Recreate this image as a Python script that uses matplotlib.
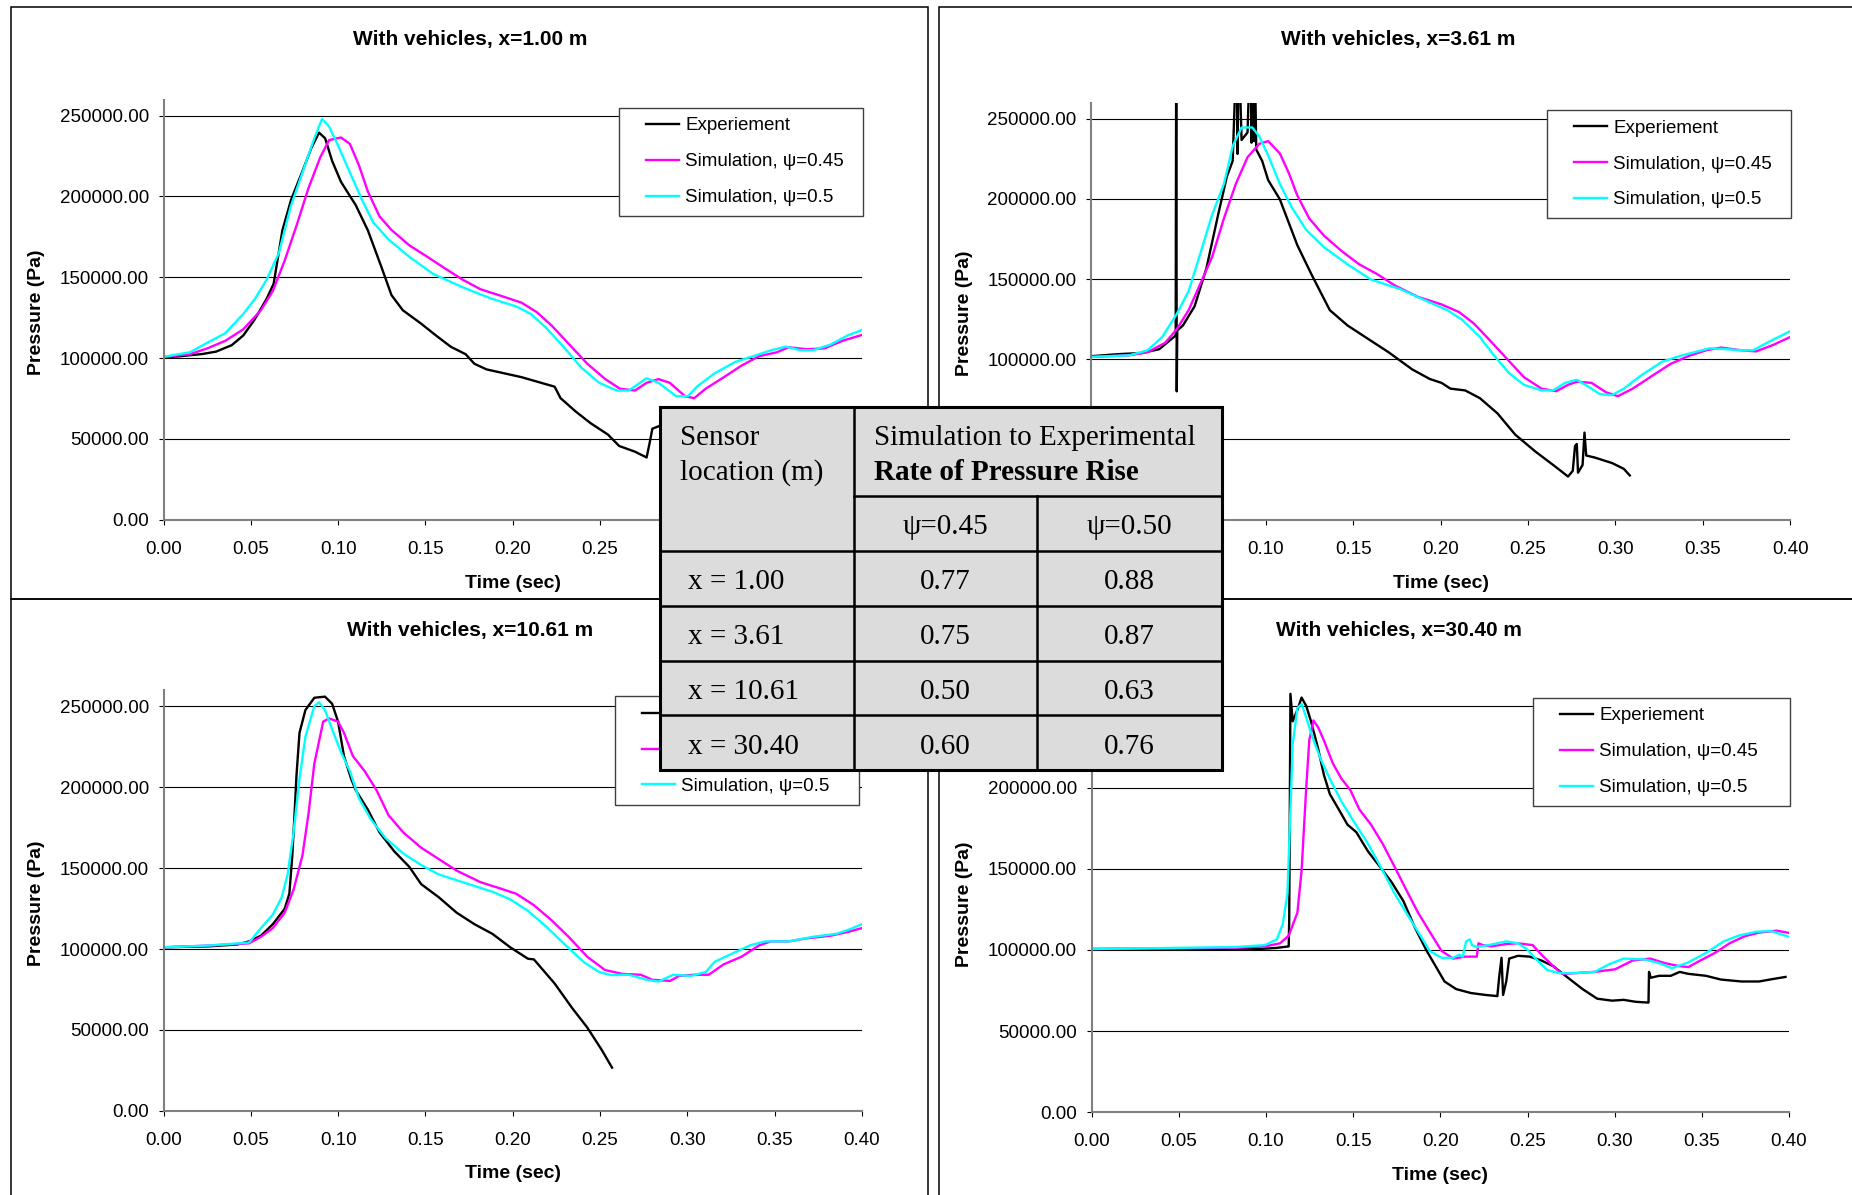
import matplotlib
matplotlib.use("Agg")
from matplotlib import pyplot as plt
from matplotlib.lines import Line2D
from matplotlib.legend_handler import HandlerLine2D
from matplotlib.patches import Rectangle
from matplotlib.ticker import FormatStrFormatter

plt.rcParams['font.family'] = 'Liberation Sans'

# ---------------- data (time s, pressure Pa) -------------
# x = 1.00 m
t1_exp = [0.000, 0.008, 0.022, 0.030, 0.039, 0.0456, 0.052, 0.059, 0.063, 0.068, 0.073, 0.080, 0.0846,
          0.089, 0.0925, 0.0965, 0.1016, 0.110, 0.117, 0.125, 0.1305, 0.137, 0.1475, 0.156, 0.1645,
          0.173, 0.178, 0.185, 0.195, 0.205, 0.214, 0.224, 0.2274, 0.236, 0.2445, 0.2545, 0.261,
          0.270, 0.2767, 0.2783, 0.280, 0.284]
p1_exp = [100500, 101000, 102500, 104000, 108000, 114000, 123700, 136700, 146000, 179000, 198000,
          217000, 230000, 239500, 236000, 222000, 209000, 194700, 179000, 155600, 139000, 129600,
          121300, 114000, 107000, 102400, 96500, 93000, 90600, 88200, 85400, 82300, 75200, 67000,
          59800, 52700, 45600, 42100, 38500, 46800, 56300, 58000]
t1_s45 = [0.001, 0.015, 0.025, 0.0353, 0.0456, 0.0557, 0.0625, 0.0693, 0.076, 0.083, 0.0897, 0.0948,
          0.1016, 0.1067, 0.1118, 0.117, 0.1237, 0.1305, 0.1407, 0.151, 0.161, 0.1713, 0.1815, 0.195,
          0.205, 0.2138, 0.2223, 0.2325, 0.2427, 0.253, 0.2613, 0.270, 0.2767, 0.2835, 0.290, 0.2987,
          0.304, 0.3106, 0.321, 0.331, 0.3412, 0.3514, 0.358, 0.3684, 0.3786, 0.389, 0.400]
p1_s45 = [100800, 102400, 106000, 110700, 117800, 129600, 141400, 160300, 181600, 205300, 224200,
          234900, 236500, 232500, 219500, 203000, 187600, 179300, 169800, 162700, 155600, 148500,
          142600, 137900, 134300, 128400, 120100, 108300, 96500, 87000, 81100, 79900, 84700, 87000,
          84700, 76400, 75200, 81100, 88200, 95300, 101200, 103600, 106700, 105500, 106000, 110700,
          114300]
t1_s50 = [0.001, 0.015, 0.025, 0.0353, 0.0456, 0.0523, 0.059, 0.066, 0.0727, 0.0795, 0.0863, 0.0907,
          0.0948, 0.100, 0.1067, 0.1135, 0.120, 0.1288, 0.1407, 0.1543, 0.1713, 0.188, 0.2019, 0.2104,
          0.2189, 0.229, 0.2393, 0.2495, 0.2597, 0.2665, 0.2767, 0.2835, 0.2936, 0.3004, 0.3055,
          0.3157, 0.3276, 0.3378, 0.348, 0.3565, 0.365, 0.3718, 0.382, 0.3922, 0.400]
p1_s50 = [101000, 103600, 109500, 115400, 127300, 136700, 148500, 165100, 193500, 214800, 236000,
          247900, 243200, 231300, 214800, 198200, 184000, 173400, 162700, 152100, 143800, 136700,
          132000, 127300, 119000, 107100, 94100, 84700, 79900, 79900, 87500, 84700, 76400, 76400,
          82300, 90600, 97700, 101200, 104800, 107100, 104800, 104800, 108300, 114200, 117300]

# x = 3.61 m (spikes run off the top of the axis)
t2_exp = [0.001, 0.0155, 0.029, 0.039, 0.0474, 0.0484, 0.0487, 0.0490, 0.0493, 0.0525, 0.0592, 0.066,
          0.0727, 0.0777, 0.081, 0.0834, 0.0838, 0.0844, 0.0861, 0.0895, 0.0912, 0.0918, 0.0925,
          0.0932, 0.0935, 0.0945, 0.0979, 0.1013, 0.108, 0.113, 0.118, 0.1265, 0.1366, 0.1467,
          0.1568, 0.1702, 0.1837, 0.1938, 0.2005, 0.2056, 0.214, 0.2224, 0.2325, 0.2426, 0.2543,
          0.2644, 0.2729, 0.2756, 0.2769, 0.2779, 0.2786, 0.2812, 0.2823, 0.2833, 0.288, 0.2981,
          0.3048, 0.3082]
p2_exp = [102000, 103200, 103900, 106300, 113900, 115000, 300000, 80000, 118000, 121000, 133000,
          156800, 190200, 214000, 223600, 300000, 228000, 300000, 236700, 241400, 300000, 235000,
          300000, 236000, 300000, 230700, 223600, 211700, 199700, 185400, 171100, 152000, 130600,
          121100, 113900, 104400, 93700, 87700, 85300, 81700, 80600, 75800, 66300, 53100, 42400,
          34100, 26900, 30500, 46000, 47200, 29300, 34100, 54300, 40000, 38800, 35300, 31700, 27600]
t2_s45 = [0.001, 0.022, 0.0323, 0.0424, 0.049, 0.0558, 0.0626, 0.0693, 0.076, 0.0828, 0.0895, 0.0962,
          0.1013, 0.108, 0.113, 0.118, 0.1248, 0.1332, 0.1433, 0.1534, 0.1635, 0.1736, 0.187, 0.2005,
          0.2106, 0.219, 0.2274, 0.2375, 0.2476, 0.2577, 0.2661, 0.2729, 0.2779, 0.2863, 0.2947,
          0.3014, 0.3099, 0.3216, 0.3317, 0.3418, 0.3519, 0.3603, 0.372, 0.3805, 0.3906, 0.400]
p2_s45 = [101500, 102500, 104400, 110300, 118700, 130600, 147300, 164000, 187800, 209300, 225900,
          234300, 236000, 228300, 216400, 202100, 187800, 177100, 167500, 159200, 153200, 146100,
          138900, 134200, 129400, 122300, 112700, 100800, 88900, 81700, 80100, 84100, 86000, 85300,
          79400, 77000, 81700, 90100, 97200, 102000, 105600, 107300, 105600, 104900, 109100, 113900]
t2_s50 = [0.001, 0.022, 0.0323, 0.0407, 0.049, 0.0558, 0.0626, 0.0693, 0.076, 0.0811, 0.0861, 0.0922,
          0.0962, 0.1013, 0.108, 0.1147, 0.1231, 0.1332, 0.1467, 0.1601, 0.177, 0.1938, 0.2039,
          0.2123, 0.2224, 0.2308, 0.2392, 0.2476, 0.2577, 0.2644, 0.2712, 0.2779, 0.2846, 0.2913,
          0.298, 0.3048, 0.3149, 0.3266, 0.3367, 0.3452, 0.3536, 0.3637, 0.372, 0.3788, 0.3889, 0.400]
p2_s50 = [101500, 102500, 105600, 113900, 128200, 142500, 166300, 190200, 209300, 233100, 244500,
          244500, 239000, 227100, 209300, 194900, 180600, 169900, 159200, 149700, 143700, 135400,
          130600, 124600, 113900, 102000, 91300, 84100, 80600, 80600, 85300, 87200, 82900, 78200,
          77700, 81700, 90100, 98400, 102000, 104400, 106800, 106300, 105600, 105600, 111500, 117500]

# x = 10.61 m
t3_exp = [0.001, 0.0251, 0.0421, 0.0489, 0.0557, 0.0625, 0.0693, 0.072, 0.0737, 0.0751, 0.0761, 0.0778,
          0.0812, 0.0863, 0.0924, 0.0965, 0.0999, 0.1033, 0.1074, 0.1101, 0.1169, 0.1237, 0.1322,
          0.1407, 0.1475, 0.1577, 0.1679, 0.1781, 0.1883, 0.1985, 0.2087, 0.2121, 0.224, 0.2342,
          0.2427, 0.2512, 0.2569]
p3_exp = [101100, 101600, 102800, 104700, 108200, 115300, 124800, 134200, 157800, 186200, 207500,
          233500, 247600, 255200, 255900, 251500, 240500, 219200, 205100, 198000, 186200, 172000,
          160200, 150800, 140100, 131900, 122400, 115300, 109400, 101100, 94000, 93600, 78700, 63300,
          51500, 37300, 26700]
t3_s45 = [0.001, 0.0251, 0.0489, 0.0557, 0.0625, 0.0693, 0.0744, 0.0795, 0.083, 0.0863, 0.0914, 0.0948,
          0.0999, 0.1033, 0.1084, 0.1152, 0.122, 0.1288, 0.1373, 0.1475, 0.1577, 0.1679, 0.1815,
          0.1917, 0.2019, 0.2121, 0.2223, 0.2325, 0.2427, 0.2529, 0.263, 0.2733, 0.280, 0.2902,
          0.2953, 0.3039, 0.3123, 0.3208, 0.331, 0.3412, 0.348, 0.3582, 0.3684, 0.382, 0.3922, 0.400]
p3_s45 = [101100, 102100, 103500, 107500, 112900, 122400, 136600, 157800, 183800, 214500, 240500,
          242400, 240500, 233500, 219200, 209800, 198000, 182700, 172000, 162600, 155500, 148400,
          141300, 137800, 134200, 127100, 117700, 107000, 95200, 87000, 84600, 84100, 81000, 80300,
          83400, 84100, 84100, 90500, 95200, 102300, 104700, 104700, 106600, 108200, 110600, 112900]
t3_s50 = [0.001, 0.0251, 0.0489, 0.0557, 0.0625, 0.0676, 0.071, 0.0744, 0.0778, 0.0812, 0.0863, 0.089,
          0.0924, 0.0965, 0.1016, 0.1067, 0.1118, 0.1186, 0.1271, 0.1373, 0.1475, 0.1577, 0.1747,
          0.1883, 0.1985, 0.2087, 0.2189, 0.2291, 0.241, 0.2495, 0.2563, 0.2665, 0.2767, 0.2835,
          0.2919, 0.3021, 0.3106, 0.3157, 0.3242, 0.3361, 0.3446, 0.3582, 0.3718, 0.3854, 0.3922, 0.400]
p3_s50 = [101100, 102100, 104000, 112900, 121200, 131900, 146000, 172000, 205100, 231100, 250000,
          252400, 247600, 235800, 221600, 209800, 193300, 180300, 168500, 159000, 151900, 146000,
          140100, 135400, 130700, 123600, 114100, 103500, 91700, 85800, 83900, 84100, 81000, 79900,
          84100, 83400, 85800, 92100, 96400, 102300, 104700, 104700, 107500, 109400, 111800, 115300]

# x = 30.40 m
t4_exp = [0.001, 0.0826, 0.0961, 0.1062, 0.113, 0.1133, 0.114, 0.1153, 0.118, 0.1204, 0.1231, 0.1258,
          0.1298, 0.1332, 0.1366, 0.1417, 0.1467, 0.1518, 0.1585, 0.1653, 0.172, 0.1788, 0.1855,
          0.1922, 0.1973, 0.2024, 0.2091, 0.2175, 0.226, 0.2327, 0.2337, 0.2351, 0.236, 0.2378,
          0.2395, 0.2445, 0.2513, 0.258, 0.2648, 0.2732, 0.2816, 0.29, 0.2985, 0.3052, 0.312, 0.3194,
          0.3197, 0.3207, 0.3255, 0.3322, 0.3373, 0.3423, 0.3524, 0.3609, 0.3727, 0.3828, 0.3912, 0.398]
p4_exp = [100600, 100600, 100600, 101300, 102200, 118300, 257700, 240800, 247800, 255400, 250200,
          240800, 224300, 207800, 196000, 186600, 177200, 172500, 160700, 151300, 141800, 130100,
          113600, 99400, 90000, 80600, 75900, 73500, 72300, 71600, 82900, 95200, 72300, 80600, 94700,
          96400, 95900, 93500, 90000, 82900, 75900, 70000, 68800, 69300, 68100, 67600, 86500, 82900,
          84100, 84100, 86500, 85300, 84100, 81800, 80600, 80600, 82200, 83400]
t4_s45 = [0.001, 0.0826, 0.0995, 0.108, 0.113, 0.118, 0.1204, 0.1231, 0.1248, 0.1272, 0.1298, 0.1332,
          0.1383, 0.1433, 0.1484, 0.1535, 0.1602, 0.1669, 0.1737, 0.1804, 0.1872, 0.1939, 0.2007,
          0.2074, 0.2142, 0.2209, 0.2219, 0.2243, 0.2293, 0.2378, 0.2445, 0.253, 0.258, 0.2648,
          0.2698, 0.2782, 0.2884, 0.3002, 0.3103, 0.3204, 0.3288, 0.3373, 0.3423, 0.3491, 0.3575,
          0.3659, 0.3744, 0.3828, 0.393, 0.400]
p4_s45 = [100600, 101300, 102200, 104100, 108800, 123000, 148900, 200700, 229000, 241300, 237300,
          229000, 214900, 205400, 198400, 186600, 177200, 165400, 151300, 137100, 123000, 111200,
          99400, 94700, 95900, 95900, 104100, 103000, 102200, 103700, 104100, 103000, 97100, 90000,
          85300, 85800, 86500, 88100, 93500, 94700, 91900, 90000, 89500, 93500, 98200, 104100, 108400,
          110700, 111900, 110500]
t4_s50 = [0.001, 0.0826, 0.0995, 0.1062, 0.1096, 0.1123, 0.1137, 0.1153, 0.118, 0.1204, 0.1231, 0.1265,
          0.1315, 0.1366, 0.1433, 0.1501, 0.1585, 0.1669, 0.1737, 0.1804, 0.1872, 0.1939, 0.2007,
          0.2074, 0.2108, 0.2128, 0.2148, 0.2169, 0.2182, 0.2209, 0.2277, 0.2378, 0.2445, 0.2496,
          0.2546, 0.2614, 0.2681, 0.2782, 0.2884, 0.2968, 0.3052, 0.317, 0.3255, 0.3329, 0.3423,
          0.3524, 0.3625, 0.371, 0.3811, 0.3895, 0.400]
p4_s50 = [100600, 101800, 103000, 106500, 115900, 134800, 177200, 226600, 249000, 251400, 243100,
          231400, 217200, 205400, 191300, 179500, 165400, 148900, 134800, 123000, 111200, 99400, 95200,
          95200, 97100, 95900, 105300, 106500, 102900, 101800, 103000, 105300, 104100, 100600, 94700,
          87600, 85800, 85800, 86500, 91200, 94700, 94200, 91900, 88800, 92400, 98200, 105300, 108800,
          111200, 111700, 108100]

panel_titles = ['With vehicles, x=1.00 m', 'With vehicles, x=3.61 m',
                'With vehicles, x=10.61 m', 'With vehicles, x=30.40 m']
legend_labels = ['Experiement', 'Simulation, \u03c8=0.45', 'Simulation, \u03c8=0.5']
x_ticks = [0.00, 0.05, 0.10, 0.15, 0.20, 0.25, 0.30, 0.35, 0.40]
y_ticks = [0, 50000, 100000, 150000, 200000, 250000]

series = [
    [(t1_exp, p1_exp), (t1_s45, p1_s45), (t1_s50, p1_s50)],
    [(t2_exp, p2_exp), (t2_s45, p2_s45), (t2_s50, p2_s50)],
    [(t3_exp, p3_exp), (t3_s45, p3_s45), (t3_s50, p3_s50)],
    [(t4_exp, p4_exp), (t4_s45, p4_s45), (t4_s50, p4_s50)],
]

# table values
tab_locations = ['x = 1.00', 'x = 3.61', 'x = 10.61', 'x = 30.40']
ratio_045 = ['0.77', '0.75', '0.50', '0.60']
ratio_050 = ['0.88', '0.87', '0.63', '0.76']

# ---------------- layout (pixels, origin top-left) ----------------
W, H = 1852, 1195
layout = [
    dict(ax=(163.7, 99.5, 861.8, 519.7), frame=(10.7, 6.5, 928, 599), title=(470, 40),
         legend=(619, 107.5, 863), xlab_y=584),
    dict(ax=(1091.1, 102.6, 1790.2, 519.7), frame=(939, 6.5, 1862, 599), title=(1398.6, 40),
         legend=(1547, 109.8, 1791), xlab_y=584),
    dict(ax=(163.7, 690, 861.8, 1110.9), frame=(10.7, 599, 928, 1210), title=(470, 631),
         legend=(615, 696.4, 859), xlab_y=1173),
    dict(ax=(1091.7, 690.1, 1789, 1112.4), frame=(939, 599, 1862, 1210), title=(1398.6, 631),
         legend=(1533, 697.6, 1790), xlab_y=1175),
]
colors = ['black', '#FF00FF', '#00FFFF']


def fig_rect(l, t, r, b):
    return [l / W, 1 - b / H, (r - l) / W, (b - t) / H]


fig = plt.figure(figsize=(W / 100, H / 100), dpi=100)
fig.patch.set_facecolor('white')

for k in range(4):
    lay = layout[k]
    l, t, r, b = lay['ax']
    fl, ft, fr, fb = lay['frame']
    fig.add_artist(Rectangle((fl / W, 1 - fb / H), (fr - fl) / W, (fb - ft) / H,
                             transform=fig.transFigure, fill=False, ec='black', lw=1.1))
    fig.text(lay['title'][0] / W, 1 - lay['title'][1] / H, panel_titles[k],
             ha='center', va='center', fontsize=15, fontweight='bold')

    ax = fig.add_axes(fig_rect(l, t, r, b))
    handles = []
    for (tt, pp), c, lab in zip(series[k], colors, legend_labels):
        h, = ax.plot(tt, pp, color=c, lw=1.7, label=lab)
        handles.append(h)

    ax.set_xlim(0, 0.40)
    ax.set_ylim(0, 260000)
    ax.set_xticks(x_ticks)
    ax.set_yticks(y_ticks)
    ax.xaxis.set_major_formatter(FormatStrFormatter('%.2f'))
    ax.yaxis.set_major_formatter(FormatStrFormatter('%.2f'))
    ax.grid(axis='y', color='black', lw=0.8)
    ax.set_axisbelow(True)
    for s in ['top', 'right']:
        ax.spines[s].set_visible(False)
    for s in ['left', 'bottom']:
        ax.spines[s].set_color('#808080')
        ax.spines[s].set_linewidth(1.5)
    ax.tick_params(direction='out', length=3.6, width=0.8, color='black', labelsize=13.5)
    ax.tick_params(axis='y', pad=7)
    ax.tick_params(axis='x', pad=11.4)

    ax.set_xlabel('Time (sec)', fontsize=14, fontweight='bold')
    ax.set_ylabel('Pressure (Pa)', fontsize=14, fontweight='bold')
    ax.xaxis.label.set_va('center')
    ax.yaxis.label.set_va('center')
    ax.xaxis.set_label_coords(0.5, -(lay['xlab_y'] - b) / (b - t))
    ax.yaxis.set_label_coords(-127.0 / (r - l), 0.494)

    ll, lt, lr = lay['legend']
    leg = ax.legend(handles, legend_labels, loc='upper left',
                    bbox_to_anchor=(ll / W, 1 - lt / H, (lr - ll) / W, 0),
                    bbox_transform=fig.transFigure, mode='expand', borderaxespad=0,
                    fontsize=13.5, fancybox=False, framealpha=1, edgecolor='#404040',
                    borderpad=0.52, labelspacing=1.0, handlelength=3.64, handletextpad=-0.62,
                    handler_map={Line2D: HandlerLine2D(marker_pad=0.94, numpoints=2)})
    leg.get_frame().set_linewidth(1.0)

# ---------------- table overlay ----------------
tw, th = 561.6, 362.4
tab = fig.add_axes(fig_rect(660, 407.4, 660 + tw, 407.4 + th), zorder=10)
tab.set_xlim(0, tw)
tab.set_ylim(th, 0)
tab.axis('off')
tab.add_patch(Rectangle((0, 0), tw, th, fc='#DCDCDC', ec='none'))
col_x = [0, 193.5, 377.3, tw]
row_y = [0, 88.6, 143.2, 198.4, 253.6, 307.9, th]
lk = dict(color='black', lw=1.8, solid_capstyle='projecting', clip_on=False)
tab.plot([col_x[1], col_x[1]], [0, th], **lk)
tab.plot([col_x[2], col_x[2]], [row_y[1], th], **lk)
tab.plot([col_x[1], tw], [row_y[1], row_y[1]], **lk)
for y in row_y[2:-1]:
    tab.plot([0, tw], [y, y], **lk)
tab.add_patch(Rectangle((0, 0), tw, th, fill=False, ec='black', lw=2.2, clip_on=False))

tf = dict(family='Liberation Serif', fontsize=21)
dy = 4  # digits sit a little low in their cells
tab.text(20, 37.6, 'Sensor', va='baseline', ha='left', **tf)
tab.text(20, 72.6, 'location (m)', va='baseline', ha='left', **tf)
tab.text(214, 37.6, 'Simulation to Experimental', va='baseline', ha='left', **tf)
tab.text(214, 72.6, 'Rate of Pressure Rise', va='baseline', ha='left', fontweight='bold', **tf)
c1 = (col_x[1] + col_x[2]) / 2
c2 = (col_x[2] + col_x[3]) / 2
hy = (row_y[1] + row_y[2]) / 2 + dy
tab.text(c1, hy, '\u03c8=0.45', ha='center', va='center', **tf)
tab.text(c2, hy, '\u03c8=0.50', ha='center', va='center', **tf)
for i in range(4):
    yc = (row_y[i + 2] + row_y[i + 3]) / 2 + dy
    tab.text(28, yc, tab_locations[i], ha='left', va='center', **tf)
    tab.text(c1, yc, ratio_045[i], ha='center', va='center', **tf)
    tab.text(c2, yc, ratio_050[i], ha='center', va='center', **tf)

fig.savefig('out.png', dpi=100)
